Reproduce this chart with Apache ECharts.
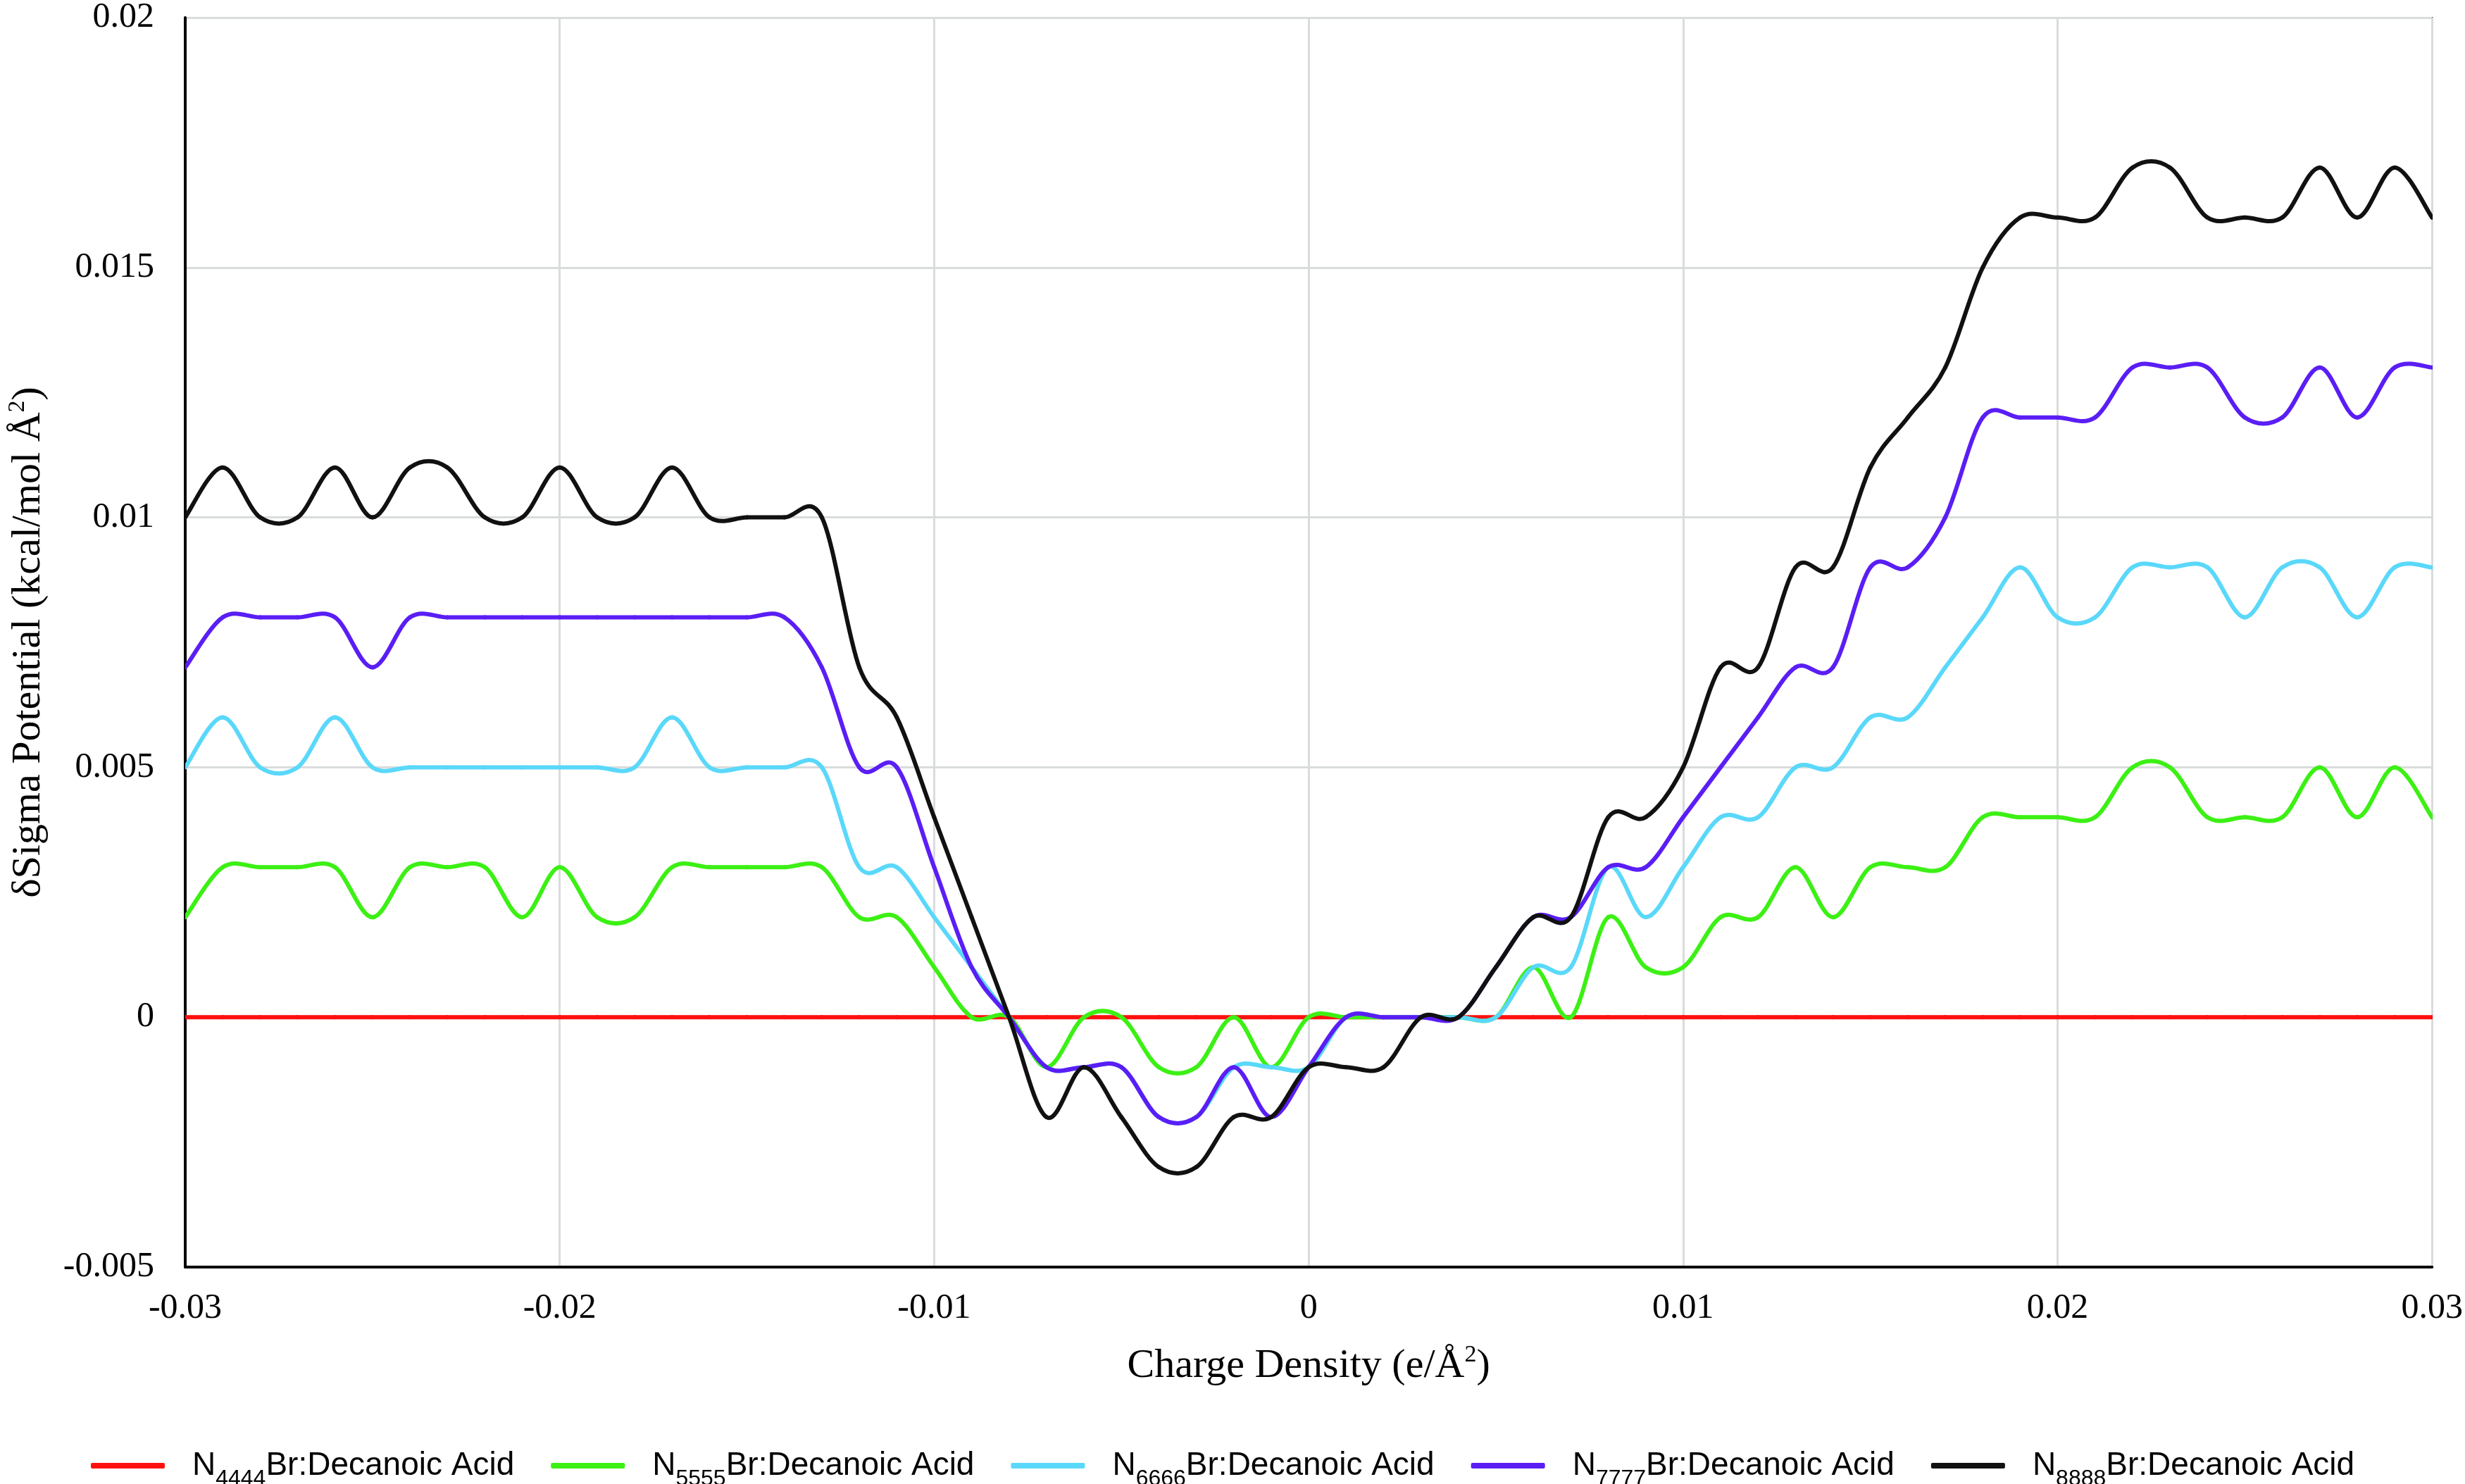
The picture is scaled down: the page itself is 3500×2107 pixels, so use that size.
<!DOCTYPE html>
<html>
<head>
<meta charset="utf-8">
<script src="https://cdn.jsdelivr.net/npm/echarts/dist/echarts.min.js"></script>
<style>
html,body{margin:0;padding:0;background:#ffffff;}
#chart{width:3500px;height:2107px;}
</style>
</head>
<body>
<div id="chart"></div>
<script>
// Charge density (e/Å²) sample points
const chargeDensity = [
  -0.030,-0.029,-0.028,-0.027,-0.026,-0.025,-0.024,-0.023,-0.022,-0.021,
  -0.020,-0.019,-0.018,-0.017,-0.016,-0.015,-0.014,-0.013,-0.012,-0.011,
  -0.010,-0.009,-0.008,-0.007,-0.006,-0.005,-0.004,-0.003,-0.002,-0.001,
   0.000,
   0.001, 0.002, 0.003, 0.004, 0.005, 0.006, 0.007, 0.008, 0.009, 0.010,
   0.011, 0.012, 0.013, 0.014, 0.015, 0.016, 0.017, 0.018, 0.019, 0.020,
   0.021, 0.022, 0.023, 0.024, 0.025, 0.026, 0.027, 0.028, 0.029, 0.030
];

const n4444 = [
  0,0,0,0,0,0,0,0,0,0,
  0,0,0,0,0,0,0,0,0,0,
  0,0,0,0,0,0,0,0,0,0,
  0,
  0,0,0,0,0,0,0,0,0,0,
  0,0,0,0,0,0,0,0,0,0,
  0,0,0,0,0,0,0,0,0,0
];

const n5555 = [
  0.002,0.003,0.003,0.003,0.003,0.002,0.003,0.003,0.003,0.002,
  0.003,0.002,0.002,0.003,0.003,0.003,0.003,0.003,0.002,0.002,
  0.001,0.000,0.000,-0.001,0.000,0.000,-0.001,-0.001,0.000,-0.001,
  0.000,
  0.000,0.000,0.000,0.000,0.000,0.001,0.000,0.002,0.001,0.001,
  0.002,0.002,0.003,0.002,0.003,0.003,0.003,0.004,0.004,0.004,
  0.004,0.005,0.005,0.004,0.004,0.004,0.005,0.004,0.005,0.004
];

const n6666 = [
  0.005,0.006,0.005,0.005,0.006,0.005,0.005,0.005,0.005,0.005,
  0.005,0.005,0.005,0.006,0.005,0.005,0.005,0.005,0.003,0.003,
  0.002,0.001,0.000,-0.001,-0.001,-0.001,-0.002,-0.002,-0.001,-0.001,
  -0.001,
  0.000,0.000,0.000,0.000,0.000,0.001,0.001,0.003,0.002,0.003,
  0.004,0.004,0.005,0.005,0.006,0.006,0.007,0.008,0.009,0.008,
  0.008,0.009,0.009,0.009,0.008,0.009,0.009,0.008,0.009,0.009
];

const n7777 = [
  0.007,0.008,0.008,0.008,0.008,0.007,0.008,0.008,0.008,0.008,
  0.008,0.008,0.008,0.008,0.008,0.008,0.008,0.007,0.005,0.005,
  0.003,0.001,0.000,-0.001,-0.001,-0.001,-0.002,-0.002,-0.001,-0.002,
  -0.001,
  0.000,0.000,0.000,0.000,0.001,0.002,0.002,0.003,0.003,0.004,
  0.005,0.006,0.007,0.007,0.009,0.009,0.010,0.012,0.012,0.012,
  0.012,0.013,0.013,0.013,0.012,0.012,0.013,0.012,0.013,0.013
];

const n8888 = [
  0.010,0.011,0.010,0.010,0.011,0.010,0.011,0.011,0.010,0.010,
  0.011,0.010,0.010,0.011,0.010,0.010,0.010,0.010,0.007,0.006,
  0.004,0.002,0.000,-0.002,-0.001,-0.002,-0.003,-0.003,-0.002,-0.002,
  -0.001,
  -0.001,-0.001,0.000,0.000,0.001,0.002,0.002,0.004,0.004,0.005,
  0.007,0.007,0.009,0.009,0.011,0.012,0.013,0.015,0.016,0.016,
  0.016,0.017,0.017,0.016,0.016,0.016,0.017,0.016,0.017,0.016
];

const seriesNames = [
  'N4444Br:Decanoic Acid',
  'N5555Br:Decanoic Acid',
  'N6666Br:Decanoic Acid',
  'N7777Br:Decanoic Acid',
  'N8888Br:Decanoic Acid'
];
const seriesSubscripts = ['4444','5555','6666','7777','8888'];
const seriesValues = [n4444, n5555, n6666, n7777, n8888];
const seriesColors = ['#FF1010', '#3CF014', '#5AD8FA', '#5A1EF5', '#111111'];

const xTitle = '{a|Charge Density (e/Å}{sup|2}{a|)}';
const yTitle = '{a|δSigma Potential (kcal/mol Å}{sup|2}{a|)}';

const serif = 'Liberation Serif';
const sans = 'Liberation Sans';

const titleRich = {
  a: {fontFamily: serif, fontSize: 58, color: '#000', lineHeight: 66},
  sup: {fontFamily: serif, fontSize: 34, color: '#000', lineHeight: 34, verticalAlign: 'top'}
};

const chart = echarts.init(document.getElementById('chart'), null, {renderer: 'canvas'});

// Smoothed line (Catmull-Rom style, as spreadsheet "smoothed line") drawn
// segment by segment, every point placed through the axes' own scales (api.coord).
function makeRenderer(values, color) {
  const last = chargeDensity.length - 1;
  const idx = k => Math.max(0, Math.min(last, k));
  return function (params, api) {
    const j = params.dataIndex;
    if (j >= last) return null;
    const pt = k => api.coord([chargeDensity[idx(k)], values[idx(k)]]);
    const p0 = pt(j - 1), p1 = pt(j), p2 = pt(j + 1), p3 = pt(j + 2);
    return {
      type: 'bezierCurve',
      shape: {
        x1: p1[0], y1: p1[1], x2: p2[0], y2: p2[1],
        cpx1: p1[0] + (p2[0] - p0[0]) / 6, cpy1: p1[1] + (p2[1] - p0[1]) / 6,
        cpx2: p2[0] - (p3[0] - p1[0]) / 6, cpy2: p2[1] - (p3[1] - p1[1]) / 6
      },
      style: {stroke: color, lineWidth: 6, fill: null, lineCap: 'round', lineJoin: 'round'},
      silent: true
    };
  };
}

const series = seriesNames.map((name, i) => ({
  name: name,
  type: 'custom',
  coordinateSystem: 'cartesian2d',
  data: chargeDensity.map((x, j) => [x, seriesValues[i][j]]),
  encode: {x: 0, y: 1},
  renderItem: makeRenderer(seriesValues[i], seriesColors[i]),
  itemStyle: {color: seriesColors[i]},
  clip: true,
  z: 2 + i
}));

chart.setOption({
  animation: false,
  backgroundColor: '#ffffff',
  grid: {
    left: 252, right: 40, top: 18, bottom: 308,
    show: true, borderColor: '#000', borderWidth: 2, backgroundColor: 'transparent'
  },
  xAxis: {
    type: 'value',
    min: -0.03, max: 0.03, interval: 0.01,
    axisLine: {show: true, onZero: false, lineStyle: {color: '#000', width: 4}},
    axisTick: {show: false},
    splitLine: {show: true, lineStyle: {color: '#d9dcdc', width: 3}},
    axisLabel: {fontFamily: serif, fontSize: 50, color: '#000', margin: 34},
    name: xTitle,
    nameLocation: 'middle',
    nameGap: 108,
    nameTextStyle: {rich: titleRich}
  },
  yAxis: {
    type: 'value',
    min: -0.005, max: 0.02, interval: 0.005,
    axisLine: {show: true, onZero: false, lineStyle: {color: '#000', width: 4}},
    axisTick: {show: false},
    splitLine: {show: true, lineStyle: {color: '#d9dcdc', width: 3}},
    axisLabel: {fontFamily: serif, fontSize: 50, color: '#000', margin: 44},
    name: yTitle,
    nameLocation: 'middle',
    nameGap: 189,
    nameRotate: 90,
    nameTextStyle: {rich: titleRich}
  },
  legend: {
    data: seriesNames,
    left: 124,
    top: 2053,
    itemWidth: 105,
    itemHeight: 8,
    itemGap: 52,
    icon: 'roundRect',
    formatter: function (name) {
      const k = seriesNames.indexOf(name);
      return '{g|}{n|N}{s|' + seriesSubscripts[k] + '}{n|Br:Decanoic Acid}';
    },
    textStyle: {
      fontFamily: sans, fontSize: 46, color: '#000',
      rich: {
        g: {width: 34, fontSize: 46, lineHeight: 70},
        n: {fontFamily: sans, fontSize: 46, color: '#000', lineHeight: 70},
        s: {fontFamily: sans, fontSize: 32, color: '#000', lineHeight: 34, verticalAlign: 'bottom'}
      }
    }
  },
  series: series
});
</script>
</body>
</html>
